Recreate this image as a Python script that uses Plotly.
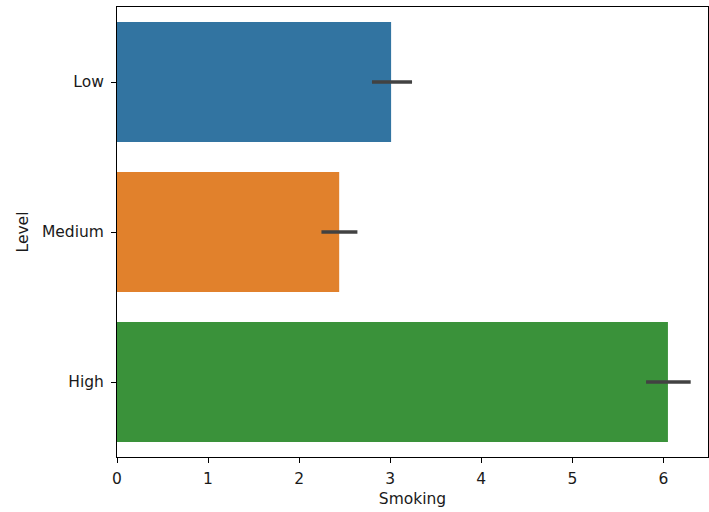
import plotly.graph_objects as go

# Mean smoking score per level, with confidence-interval bounds
levels = ["Low", "Medium", "High"]
smoking_mean = [3.01, 2.44, 6.05]
ci_low = [2.80, 2.245, 5.81]
ci_high = [3.24, 2.64, 6.30]
bar_colors = ["#3274a1", "#e1812c", "#3a923a"]
x_ticks = [0, 1, 2, 3, 4, 5, 6]

err_plus = [h - m for h, m in zip(ci_high, smoking_mean)]
err_minus = [m - l for m, l in zip(smoking_mean, ci_low)]

fig = go.Figure(
    go.Bar(
        x=smoking_mean,
        y=levels,
        orientation="h",
        width=0.8,
        marker=dict(color=bar_colors, line=dict(width=0)),
        error_x=dict(
            type="data",
            array=err_plus,
            arrayminus=err_minus,
            color="#424242",
            thickness=3.6,
            width=0,
        ),
        hoverinfo="x+y",
    )
)

font_family = "DejaVu Sans"
font_size = 15.5
axis_common = dict(
    showline=True,
    linecolor="black",
    linewidth=1,
    mirror=True,
    ticks="outside",
    ticklen=5,
    tickwidth=1,
    tickcolor="black",
    showgrid=False,
    zeroline=False,
    tickfont=dict(family=font_family, size=font_size, color="#1a1a1a"),
)

fig.update_layout(
    width=709,
    height=512,
    margin=dict(l=117, r=1, t=7, b=55),
    paper_bgcolor="white",
    plot_bgcolor="white",
    showlegend=False,
    font=dict(family=font_family, size=font_size, color="#1a1a1a"),
    xaxis=dict(
        **axis_common,
        ticklabelstandoff=2,
        range=[0, 6.49],
        tickvals=x_ticks,
        title=dict(text="Smoking", font=dict(family=font_family, size=font_size), standoff=6),
    ),
    yaxis=dict(
        **axis_common,
        ticklabelstandoff=4,
        type="category",
        categoryorder="array",
        categoryarray=levels,
        range=[2.5, -0.5],
        title=dict(text="Level", font=dict(family=font_family, size=font_size), standoff=9),
    ),
)

fig.write_html("out.html")
